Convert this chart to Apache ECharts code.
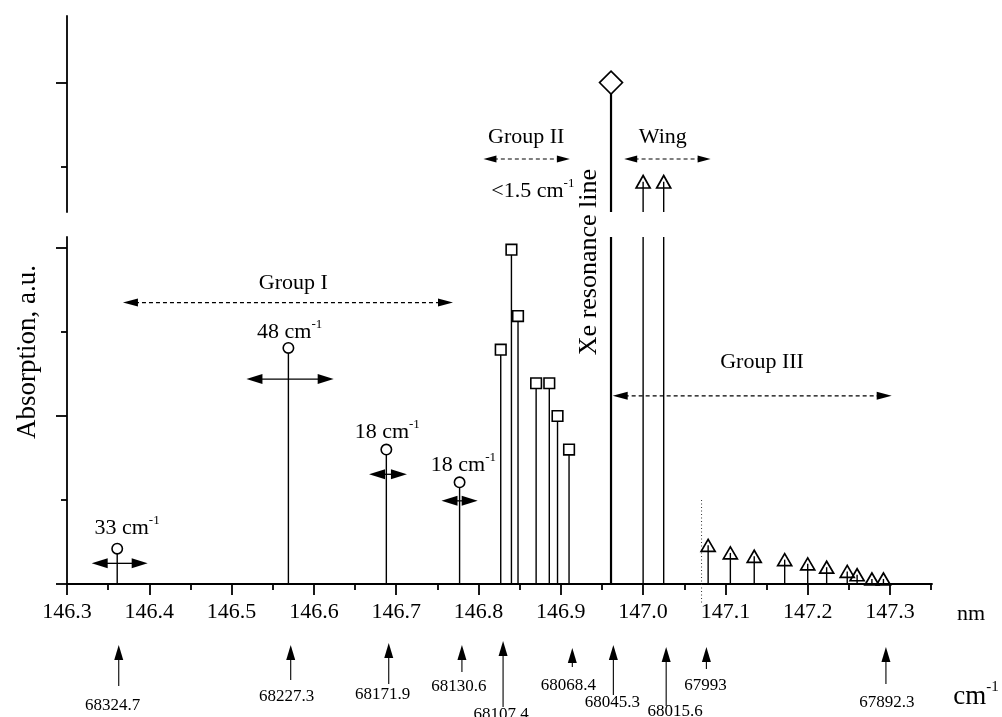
<!DOCTYPE html>
<html><head><meta charset="utf-8">
<script src="https://cdn.jsdelivr.net/npm/echarts@6/dist/echarts.min.js"></script>
<style>html,body{margin:0;padding:0;background:#fff}#c{width:1002px;height:717px}</style>
</head><body><div id="c"></div>
<script>
const FONT = "'Liberation Serif','Times New Roman',serif";

// ---------------- data ----------------
const xTickLabels = [146.3,146.4,146.5,146.6,146.7,146.8,146.9,147.0,147.1,147.2,147.3];
const xMinorTicks = [146.35,146.45,146.55,146.65,146.75,146.85,146.95,147.05,147.15,147.25,147.35];
const yTicksLowMajor = [0, 2, 4];
const yTicksLowMinor = [1, 3];
const yTicksUpMajor = [10];
const yTicksUpMinor = [9];

// Group I (circles)
const groupI_nm  = [146.361, 146.569, 146.688, 146.777];
const groupI_abs = [0.42, 2.81, 1.60, 1.21];
const groupI_shift = ['33', '48', '18', '18'];          // cm-1
const groupI_spanFrom = [146.330, 146.518, 146.667, 146.755];
const groupI_spanTo   = [146.398, 146.624, 146.713, 146.799];
// Group II (squares)
const groupII_nm  = [146.827, 146.840, 146.848, 146.870, 146.886, 146.896, 146.910];
const groupII_abs = [2.79, 3.98, 3.19, 2.39, 2.39, 2.00, 1.60];
// Xe resonance line (diamond)
const xe_nm  = [146.961];
const xe_abs = [10.0];
// Wing (triangles)
const wing_nm  = [147.000, 147.025];
const wing_abs = [8.82, 8.82];
// Group III (triangles)
const groupIII_nm  = [147.079, 147.106, 147.135, 147.172, 147.200, 147.223, 147.248, 147.260, 147.278, 147.292];
const groupIII_abs = [0.46, 0.37, 0.33, 0.29, 0.24, 0.20, 0.15, 0.11, 0.06, 0.06];
// wavenumbers (cm-1) marked below the axis
const wavenumbers = [68324.7, 68227.3, 68171.9, 68130.6, 68107.4, 68068.4, 68045.3, 68015.6, 67993, 67892.3];
// group ranges (nm)
const groupIRange   = [146.368, 146.769];
const groupIIRange  = [146.806, 146.911];
const wingRange     = [146.977, 147.082];
const groupIIIRange = [146.963, 147.302];
const groupIIIStart = [147.071];

// ---------------- layout ----------------
const X_MIN = 146.3, X_MAX = 147.351;
const LOW = {min: 0, max: 4.131};
const UP  = {min: 8.46, max: 10.793};
const layout = {
  groupIArrowY: 3.35, groupIIIArrowY: 2.24, upperArrowY: 9.09,
  spanArrowY: [0.246, 2.44, 1.306, 0.99],
  shiftLabel: [[146.373, 0.667], [146.5706, 3.0], [146.6891, 1.81], [146.7816, 1.417]],
  groupILabel: [146.575, 3.58], groupIIILabel: [147.1445, 2.64],
  xeLabel: [146.934, 3.833],
  groupIILabel: [146.858, 9.35], wingLabel: [147.024, 9.35], lt15Label: [146.866, 8.71],
  dottedTop: 1.0, dottedBelow: 21,
  wnDx: 2.4,
  wnTip:  [61, 61, 59, 61, 57, 64, 61, 63, 63, 63],
  wnTail: [102, 96, 100, 88, 123, 83, 111, 122, 85, 100],
  wnLabelY: [122, 113, 111, 103, 131, 102, 119, 128, 102, 119],
  wnLabelDx: [-6, -4, -6, -3, -2, -4, -1, 9, -1, 1]
};

// ---------------- helpers ----------------
function line(a, b, lw, dash, color) {
  return {type: 'line', shape: {x1: a[0], y1: a[1], x2: b[0], y2: b[1]},
    style: {stroke: color || '#000', lineWidth: lw, lineDash: dash || null}};
}
function head(tip, dir, len, w) { // horizontal arrow head; dir = -1 points left, +1 right
  const bx = tip[0] - dir * len;
  return {type: 'polygon', shape: {points: [[tip[0], tip[1]], [bx, tip[1] - w / 2], [bx, tip[1] + w / 2]]},
    style: {fill: '#000'}};
}
function dblArrow(api, x1, x2, y, dashed, len, w) {
  const a = api.coord([x1, y]), b = api.coord([x2, y]);
  return [
    line([a[0] + len * 0.8, a[1]], [b[0] - len * 0.8, b[1]], dashed ? 1.1 : 1.3, dashed ? [4, 3] : null),
    head(a, -1, len, w), head(b, 1, len, w)
  ];
}
function txt(p, text, size, rot) {
  return {type: 'text', x: p[0], y: p[1], rotation: rot ? Math.PI / 2 : 0,
    style: {text: text, fontSize: size, fontFamily: FONT, fill: '#000', align: 'center', verticalAlign: 'middle',
      lineHeight: Math.round(size * 1.25),
      rich: {s: {fontSize: Math.round(size * 0.6), fontFamily: FONT, fill: '#000', verticalAlign: 'top',
        lineHeight: Math.round(size * 0.6)}}}};
}
function marker(kind, cx, cy) {
  const st = {stroke: '#000', lineWidth: 1.6, fill: '#fff'};
  if (kind === 'circle') return {type: 'circle', shape: {cx: cx, cy: cy, r: 5.2}, style: st};
  if (kind === 'square') return {type: 'rect', shape: {x: cx - 5.3, y: cy - 5.3, width: 10.6, height: 10.6}, style: st};
  if (kind === 'diamond') return {type: 'polygon', shape: {points: [[cx, cy - 11.5], [cx + 11.5, cy], [cx, cy + 11.5], [cx - 11.5, cy]]}, style: st};
  const w = kind === 'wingTri' ? 14 : 14, h = kind === 'wingTri' ? 12.5 : 12;
  return {type: 'polygon', shape: {points: [[cx, cy - h / 2], [cx + w / 2, cy + h / 2], [cx - w / 2, cy + h / 2]]},
    style: {stroke: '#000', lineWidth: 1.7, fill: 'none'}};
}
function stemSeries(nm, abs, kind, lw, part) {
  const up = part === 'up';
  const ax = up ? UP : LOW;
  return {
    type: 'custom', xAxisIndex: up ? 2 : 0, yAxisIndex: up ? 2 : 0, clip: false, silent: true, animation: false,
    data: nm.map((x, i) => [x, abs[i]]),
    renderItem: function (params, api) {
      const x = api.value(0), y = api.value(1);
      if (up && y <= ax.min) return {type: 'group', children: []};
      const p0 = api.coord([x, up ? ax.min : 0]);
      const p1 = api.coord([x, Math.min(y, ax.max)]);
      const ch = [line(p0, p1, lw)];
      if (y <= ax.max) ch.push(marker(kind, p1[0], p1[1]));
      return {type: 'group', children: ch};
    }
  };
}

const series = [
  stemSeries(groupI_nm, groupI_abs, 'circle', 1.4, 'low'),
  stemSeries(groupII_nm, groupII_abs, 'square', 1.4, 'low'),
  stemSeries(groupIII_nm, groupIII_abs, 'triangle', 1.4, 'low'),
  stemSeries(xe_nm, xe_abs, 'diamond', 2.2, 'low'),
  stemSeries(wing_nm, wing_abs, 'wingTri', 1.4, 'low'),
  stemSeries(xe_nm, xe_abs, 'diamond', 2.2, 'up'),
  stemSeries(wing_nm, wing_abs, 'wingTri', 1.4, 'up'),
  { // lower annotations
    type: 'custom', xAxisIndex: 0, yAxisIndex: 0, clip: false, silent: true, animation: false, z: 5,
    data: [[X_MIN, 0]],
    renderItem: function (params, api) {
      let ch = [];
      ch = ch.concat(dblArrow(api, groupIRange[0], groupIRange[1], layout.groupIArrowY, true, 15, 8));
      ch = ch.concat(dblArrow(api, groupIIIRange[0], groupIIIRange[1], layout.groupIIIArrowY, true, 15, 8));
      groupI_spanFrom.forEach((f, i) => {
        ch = ch.concat(dblArrow(api, f, groupI_spanTo[i], layout.spanArrowY[i], false, 16, 10));
        ch.push(txt(api.coord(layout.shiftLabel[i]), groupI_shift[i] + ' cm{s|-1}', 22));
      });
      ch.push(txt(api.coord(layout.groupILabel), 'Group I', 22));
      ch.push(txt(api.coord(layout.groupIIILabel), 'Group III', 22));
      ch.push(txt(api.coord(layout.xeLabel), 'Xe resonance line', 26, true));
      // dotted start of group III
      const d0 = api.coord([groupIIIStart[0], layout.dottedTop]);
      const d1 = api.coord([groupIIIStart[0], 0]);
      ch.push(line(d0, [d1[0], d1[1] + layout.dottedBelow], 1, [1, 2.5], '#333'));
      // wavenumber arrows below axis
      wavenumbers.forEach((wn, i) => {
        const p = api.coord([1e7 / wn, 0]);
        const x = p[0] + layout.wnDx, yT = p[1] + layout.wnTip[i];
        ch.push(line([x, yT + 10], [x, p[1] + layout.wnTail[i]], 1.1));
        ch.push({type: 'polygon', shape: {points: [[x, yT], [x + 4.5, yT + 15], [x - 4.5, yT + 15]]}, style: {fill: '#000'}});
        ch.push(txt([x + layout.wnLabelDx[i], p[1] + layout.wnLabelY[i]], String(wn), 17));
      });
      return {type: 'group', children: ch};
    }
  },
  { // upper annotations
    type: 'custom', xAxisIndex: 2, yAxisIndex: 2, clip: false, silent: true, animation: false, z: 5,
    data: [[X_MIN, UP.min]],
    renderItem: function (params, api) {
      let ch = [];
      ch = ch.concat(dblArrow(api, groupIIRange[0], groupIIRange[1], layout.upperArrowY, true, 13, 7));
      ch = ch.concat(dblArrow(api, wingRange[0], wingRange[1], layout.upperArrowY, true, 13, 7));
      ch.push(txt(api.coord(layout.groupIILabel), 'Group II', 22));
      ch.push(txt(api.coord(layout.wingLabel), 'Wing', 22));
      ch.push(txt(api.coord(layout.lt15Label), '<1.5 cm{s|-1}', 22));
      return {type: 'group', children: ch};
    }
  }
];

const axLine = {show: true, lineStyle: {color: '#000', width: 1.8}};
const tickStyle = {color: '#000', width: 1.8};
const option = {
  backgroundColor: '#fff',
  animation: false,
  grid: [
    {left: 67, top: 237, width: 865, height: 347},
    {left: 67, top: 16, width: 865, height: 196}
  ],
  xAxis: [
    {gridIndex: 0, type: 'value', position: 'bottom', min: X_MIN, max: X_MAX, axisLine: axLine,
      axisTick: {show: true, customValues: xTickLabels, length: 11, lineStyle: tickStyle},
      axisLabel: {customValues: xTickLabels, formatter: v => v.toFixed(1), color: '#000', fontSize: 22, fontFamily: FONT, margin: 17},
      splitLine: {show: false}},
    {gridIndex: 0, type: 'value', position: 'bottom', min: X_MIN, max: X_MAX, axisLine: {show: false},
      axisTick: {show: true, customValues: xMinorTicks, length: 6, lineStyle: tickStyle},
      axisLabel: {show: false}, splitLine: {show: false}},
    {gridIndex: 1, type: 'value', min: X_MIN, max: X_MAX, show: false}
  ],
  yAxis: [
    {gridIndex: 0, type: 'value', position: 'left', min: LOW.min, max: LOW.max, axisLine: axLine,
      axisTick: {show: true, customValues: yTicksLowMajor, length: 11, lineStyle: tickStyle},
      axisLabel: {show: false}, splitLine: {show: false}},
    {gridIndex: 0, type: 'value', position: 'left', min: LOW.min, max: LOW.max, axisLine: {show: false},
      axisTick: {show: true, customValues: yTicksLowMinor, length: 6, lineStyle: tickStyle},
      axisLabel: {show: false}, splitLine: {show: false}},
    {gridIndex: 1, type: 'value', position: 'left', min: UP.min, max: UP.max, axisLine: axLine,
      axisTick: {show: true, customValues: yTicksUpMajor, length: 11, lineStyle: tickStyle},
      axisLabel: {show: false}, splitLine: {show: false}},
    {gridIndex: 1, type: 'value', position: 'left', min: UP.min, max: UP.max, axisLine: {show: false},
      axisTick: {show: true, customValues: yTicksUpMinor, length: 6, lineStyle: tickStyle},
      axisLabel: {show: false}, splitLine: {show: false}}
  ],
  graphic: [
    {type: 'text', x: 28, y: 352, rotation: Math.PI / 2,
      style: {text: 'Absorption, a.u.', fontSize: 27, fontFamily: FONT, fill: '#000', align: 'center', verticalAlign: 'middle'}},
    {type: 'text', x: 971, y: 614,
      style: {text: 'nm', fontSize: 22, fontFamily: FONT, fill: '#000', align: 'center', verticalAlign: 'middle'}},
    {type: 'text', x: 976, y: 697,
      style: {text: 'cm{s|-1}', fontSize: 27, fontFamily: FONT, fill: '#000', align: 'center', verticalAlign: 'middle', lineHeight: 34,
        rich: {s: {fontSize: 15, fontFamily: FONT, fill: '#000', verticalAlign: 'top', lineHeight: 15}}}}
  ],
  series: series
};
const chart = echarts.init(document.getElementById('c'), null, {renderer: 'canvas'});
chart.setOption(option);
</script></body></html>
